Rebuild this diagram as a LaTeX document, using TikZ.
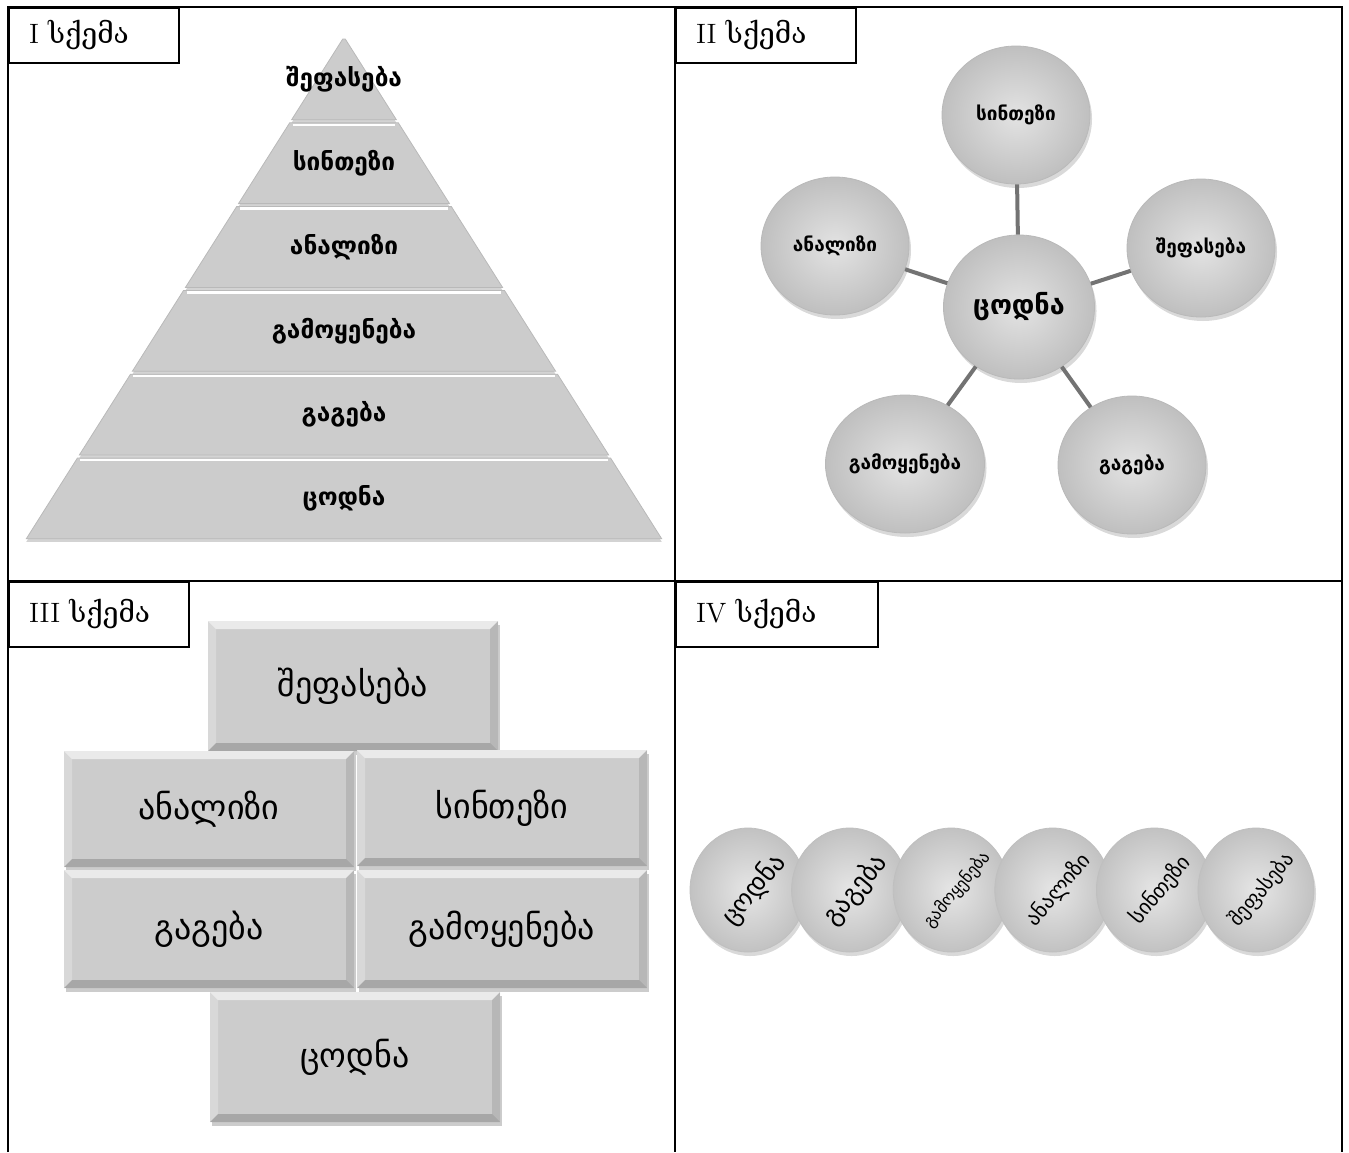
\documentclass[tikz,border=0pt]{standalone}
\usepackage{fontspec}
\newfontfamily\geo{DejaVu Sans}
\newfontfamily\geoserif{DejaVu Serif}
\usetikzlibrary{shapes.geometric, shadows, positioning, calc}

\tikzset{
  bevel/.style={path picture={
    \coordinate (nw) at (path picture bounding box.north west);
    \coordinate (ne) at (path picture bounding box.north east);
    \coordinate (sw) at (path picture bounding box.south west);
    \coordinate (se) at (path picture bounding box.south east);
    \fill[white, opacity=0.6] (nw) -- (ne) -- ([shift={(-#1,-#1)}]ne) -- ([shift={(#1,-#1)}]nw) -- cycle;
    \fill[white, opacity=0.25] (nw) -- ([shift={(#1,-#1)}]nw) -- ([shift={(#1,#1)}]sw) -- (sw) -- cycle;
    \fill[black, opacity=0.18] (sw) -- (se) -- ([shift={(-#1,#1)}]se) -- ([shift={(#1,#1)}]sw) -- cycle;
    \fill[black, opacity=0.10] (ne) -- (se) -- ([shift={(-#1,#1)}]se) -- ([shift={(-#1,-#1)}]ne) -- cycle;
  }},
}

\begin{document}
\begin{tikzpicture}[x=0.5pt, y=-0.5pt,
  frame/.style={line width=1.1pt},
  tag/.style={draw, line width=1pt, anchor=north west, minimum height=27.5pt, text width=#1,
    inner xsep=10pt, align=left, font=\fontsize{14}{16}\selectfont},
  tier/.style={fill=gray!40, draw=gray!55, line width=0.4pt,
    drop shadow={shadow xshift=0pt, shadow yshift=-1.5pt, opacity=0.35}},
  pyr/.style={font=\geo\fontsize{12.2}{14}\selectfont\bfseries},
  bub/.style={ellipse, minimum width=74pt, minimum height=69pt, inner sep=0pt,
    inner color=gray!22, outer color=gray!50, draw=gray!55,
    drop shadow={shadow xshift=1pt, shadow yshift=-2pt, opacity=0.3},
    font=\geo\fontsize{9.5}{11}\selectfont\bfseries},
  link/.style={line width=2pt, black!55},
  brick/.style={rectangle, minimum width=145pt, minimum height=#1, inner sep=0pt,
    fill=gray!40, bevel=4pt,
    drop shadow={shadow xshift=1pt, shadow yshift=-2pt, opacity=0.4},
    font=\geo\fontsize{17}{19}\selectfont},
  coin/.style={ellipse, minimum width=58pt, minimum height=62pt, inner sep=0pt,
    inner color=gray!20, outer color=gray!48, draw=gray!50,
    drop shadow={shadow xshift=1pt, shadow yshift=-2pt, opacity=0.3}},
  coinlbl/.style={rotate=50, inner sep=0pt, font=\geo\fontsize{#1}{#1}\selectfont},
]
\useasboundingbox (0,0) rectangle (1349,1152);

% frame
\draw[frame] (8,1152) -- (8,7) -- (1342,7) -- (1342,1152);
\draw[frame] (8,581) -- (1342,581);
\draw[frame] (675,7) -- (675,1152);

\node[tag=65pt] (t1) at (8,7) {I {\geoserif სქემა}};
\node[tag=70pt] (t2) at (675,7) {II {\geoserif სქემა}};
\node[tag=70pt, minimum height=32.5pt] (t3) at (8,581) {III {\geoserif სქემა}};
\node[tag=81pt, minimum height=32.5pt] (t4) at (675,581) {IV {\geoserif სქემა}};

% I: pyramid
\foreach \lbl [count=\i from 0] in {შეფასება, სინთეზი, ანალიზი, გამოყენება, გაგება, ცოდნა}{
  \pgfmathsetmacro\yt{37+\i*83.8+2}
  \pgfmathsetmacro\yb{37+(\i+1)*83.8-1}
  \pgfmathsetmacro\wt{(\yt-37)*0.6332}
  \pgfmathsetmacro\wb{(\yb-37)*0.6332}
  \draw[tier] (344-\wt,\yt) -- (344+\wt,\yt) -- (344+\wb,\yb) -- (344-\wb,\yb) -- cycle;
  \ifnum\i>0
    \draw[white, line width=1.2pt] (344-\wt+3,\yt+2) -- (344+\wt-3,\yt+2);
  \fi
  \node[pyr] (p\i) at (344,{(\yt+\yb)/2}) {\lbl};
}

% II: star of bubbles
\node[bub, minimum width=75.5pt, minimum height=72pt, font=\geo\fontsize{13.5}{15}\selectfont\bfseries] (c) at (1019,307) {ცოდნა};
\node[bub] (s) at (1016,115) {სინთეზი};
\node[bub] (a) at (835,246) {ანალიზი};
\node[bub] (e) at (1201,248) {შეფასება};
\node[bub] (g) at (905,464) {გამოყენება};
\node[bub] (u) at (1132,465) {გაგება};
\foreach \n in {s,a,e,g,u}
  \draw[link] (c) -- (\n);

% III: bricks
\node[brick=65pt] (b1) at (353,686) {შეფასება};
\node[brick=58pt] (b2) at (209,809) {ანალიზი};
\node[brick=58pt] (b3) at (502,808) {სინთეზი};
\node[brick=59pt] (b4) at (209,929) {გაგება};
\node[brick=59pt] (b5) at (502,929) {გამოყენება};
\node[brick=65pt] (b6) at (355,1057) {ცოდნა};

% IV: row of coins
\foreach \lbl/\fs [count=\i from 0] in {ცოდნა/13, გაგება/13, გამოყენება/8.5, ანალიზი/10.5, სინთეზი/10.5, შეფასება/10}{
  \node[coin] (k\i) at ({748+101.6*\i},890) {};
  \node[coinlbl=\fs] (kl\i) at ([xshift=3pt]k\i) {\lbl};
}
\end{tikzpicture}
\end{document}
